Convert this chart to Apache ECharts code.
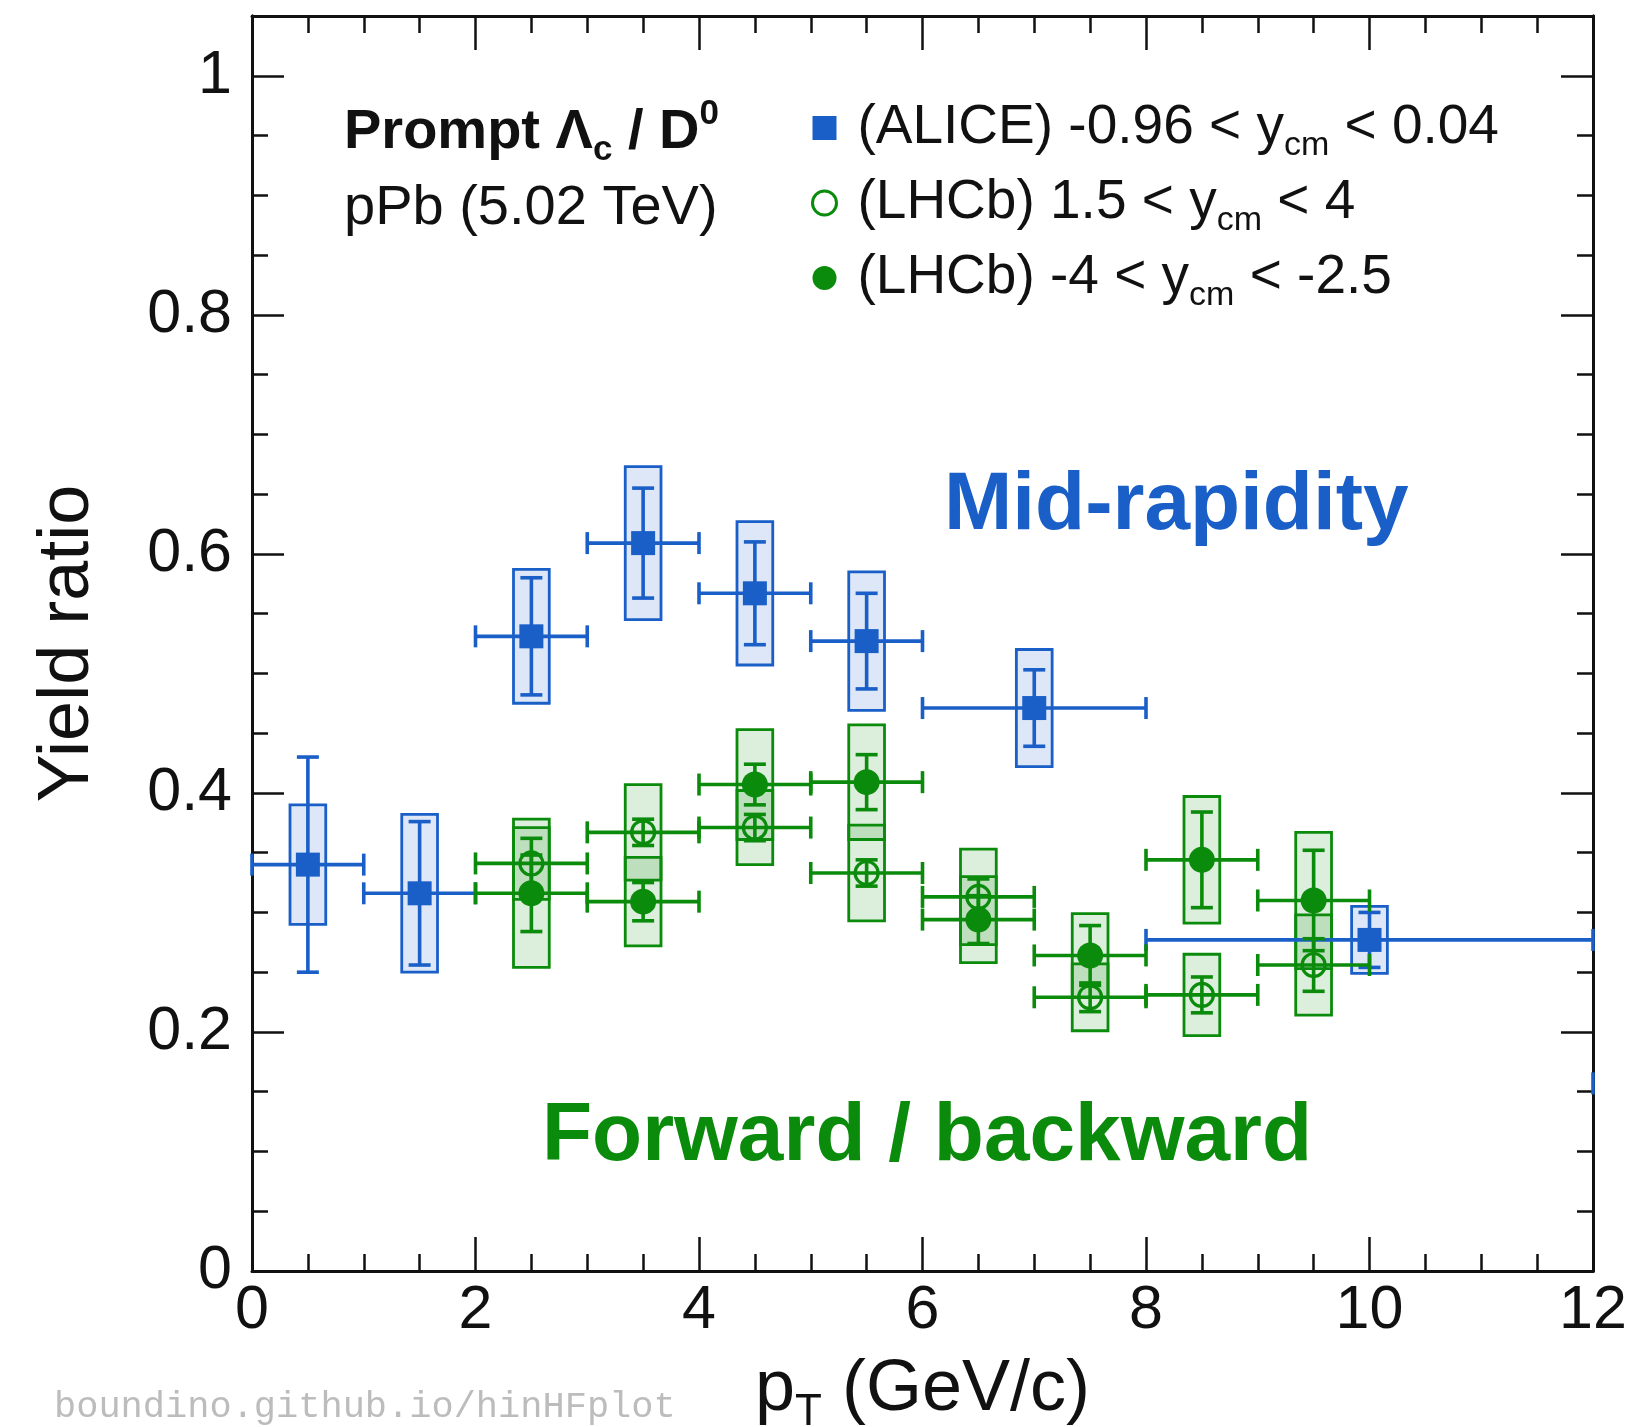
<!DOCTYPE html>
<html><head><meta charset="utf-8">
<script src="https://cdn.jsdelivr.net/npm/echarts@6/dist/echarts.min.js"></script>
<style>html,body{margin:0;padding:0;background:#fff}#c{width:1635px;height:1427px}</style>
</head><body><div id="c"></div>
<script>
// ---------------- data ----------------
const xTickValues = [0, 2, 4, 6, 8, 10, 12];
const yTickValues = [0, 0.2, 0.4, 0.6, 0.8, 1];

// ALICE -0.96 < y_cm < 0.04
const aliceX    = [0.5, 1.5, 2.5, 3.5, 4.5, 5.5, 7, 10, 18];
const aliceXLo  = [0, 1, 2, 3, 4, 5, 6, 8, 12];
const aliceXHi  = [1, 2, 3, 4, 5, 6, 8, 12, 24];
const aliceY    = [0.340, 0.316, 0.531, 0.609, 0.567, 0.527, 0.471, 0.277, 0.157];
const aliceStat = [0.090, 0.060, 0.049, 0.046, 0.043, 0.040, 0.032, 0.023, 0.030];
const aliceSyst = [0.050, 0.066, 0.056, 0.064, 0.060, 0.058, 0.049, 0.028, 0.020];

// LHCb bins
const lhcbX   = [2.5, 3.5, 4.5, 5.5, 6.5, 7.5, 8.5, 9.5];
const lhcbXLo = [2, 3, 4, 5, 6, 7, 8, 9];
const lhcbXHi = [3, 4, 5, 6, 7, 8, 9, 10];
// LHCb forward 1.5 < y_cm < 4 (open)
const fwdY    = [0.341, 0.367, 0.371, 0.333, 0.313, 0.229, 0.231, 0.256];
const fwdStat = [0.021, 0.011, 0.011, 0.011, 0.015, 0.012, 0.015, 0.022];
const fwdSyst = [0.030, 0.040, 0.031, 0.040, 0.040, 0.028, 0.034, 0.042];
// LHCb backward -4 < y_cm < -2.5 (filled)
const bwdY    = [0.316, 0.309, 0.407, 0.409, 0.294, 0.264, 0.344, 0.310];
const bwdStat = [0.032, 0.016, 0.017, 0.023, 0.020, 0.025, 0.040, 0.042];
const bwdSyst = [0.062, 0.037, 0.046, 0.048, 0.036, 0.035, 0.053, 0.057];

const legendLabels = {
  'ALICE':    '(ALICE) -0.96 < y{s|cm} < 0.04',
  'LHCb fwd': '(LHCb) 1.5 < y{s|cm} < 4',
  'LHCb bwd': '(LHCb) -4 < y{s|cm} < -2.5'
};

// ---------------- style ----------------
const FONT = '"Liberation Sans", Arial, Helvetica, sans-serif';
const BLUE = '#1a5fc8', GREEN = '#0b8b0b';
const BLUE_FILL = 'rgba(26,95,200,0.15)', GREEN_FILL = 'rgba(20,140,20,0.15)';
const INK = '#111';
const BOX_W = 0.32;

function pack(xs, lo, hi, ys, st, sy) {
  return xs.map((x, i) => [x, ys[i], lo[i], hi[i], st[i], sy[i]]);
}
const aliceData = pack(aliceX, aliceXLo, aliceXHi, aliceY, aliceStat, aliceSyst);
const fwdData = pack(lhcbX, lhcbXLo, lhcbXHi, fwdY, fwdStat, fwdSyst);
const bwdData = pack(lhcbX, lhcbXLo, lhcbXHi, bwdY, bwdStat, bwdSyst);

function boxRender(color, fill) {
  return function (params, api) {
    const cs = params.coordSys;
    const x = api.value(0), y = api.value(1), s = api.value(5);
    const p = api.coord([x, y]);
    if (p[0] < cs.x - 1 || p[0] > cs.x + cs.width + 1) return;
    const w = api.size([BOX_W, 0])[0];
    const t = api.coord([x, y + s])[1], b = api.coord([x, y - s])[1];
    return { type: 'rect', shape: { x: p[0] - w / 2, y: t, width: w, height: b - t },
      style: { fill: fill, stroke: color, lineWidth: 2.8 } };
  };
}
function barRender(color) {
  return function (params, api) {
    const cs = params.coordSys;
    const x = api.value(0), y = api.value(1), st = api.value(4);
    const p = api.coord([x, y]);
    const L = api.coord([api.value(2), y])[0], R = api.coord([api.value(3), y])[0];
    const g0 = cs.x, g1 = cs.x + cs.width;
    const ls = { stroke: color, lineWidth: 3.6 };
    const ch = [];
    const ln = (x1, y1, x2, y2) => ({ type: 'line', shape: { x1, y1, x2, y2 }, style: ls });
    const l = Math.max(L, g0), r = Math.min(R, g1);
    if (r > l) ch.push(ln(l, p[1], r, p[1]));
    if (L >= g0 - 1 && L <= g1 + 1) ch.push(ln(L, p[1] - 11, L, p[1] + 11));
    if (R >= g0 - 1 && R <= g1 + 1) ch.push(ln(R, p[1] - 11, R, p[1] + 11));
    if (p[0] >= g0 && p[0] <= g1) {
      const t = api.coord([x, y + st])[1], b = api.coord([x, y - st])[1];
      ch.push(ln(p[0], t, p[0], b));
      ch.push(ln(p[0] - 11, t, p[0] + 11, t));
      ch.push(ln(p[0] - 11, b, p[0] + 11, b));
    }
    return { type: 'group', children: ch };
  };
}

const chart = echarts.init(document.getElementById('c'), null, { renderer: 'canvas' });

const lineStyle = { color: INK, width: 3 };
const tickStyle = { color: INK, width: 2.5 };
function yAx(pos, interval, len, labels) {
  const a = {
    type: 'value', min: 0, max: 1.05, interval: interval, position: pos,
    axisLine: { show: true, onZero: false, lineStyle },
    axisTick: { show: true, inside: true, length: len, lineStyle: tickStyle },
    splitLine: { show: false },
    axisLabel: { show: false }
  };
  if (labels) {
    a.axisLabel = {
      show: true, fontSize: 61, fontFamily: FONT, color: INK, margin: 20,
      formatter: v => {
        const hit = yTickValues.find(t => Math.abs(t - v) < 1e-6);
        return hit === undefined ? '' : String(hit);
      }
    };
    a.name = 'Yield ratio';
    a.nameLocation = 'middle';
    a.nameGap = 148;
    a.nameTextStyle = { fontSize: 72, fontFamily: FONT, color: INK };
  }
  return a;
}
function xAx(pos, labels) {
  const a = {
    type: 'value', min: 0, max: 12, interval: 2, position: pos,
    axisLine: { show: true, onZero: false, lineStyle },
    axisTick: { show: true, inside: true, length: 34, lineStyle: tickStyle },
    minorTick: { show: true, splitNumber: 4, length: 17, lineStyle: tickStyle },
    splitLine: { show: false }, minorSplitLine: { show: false },
    axisLabel: { show: false }
  };
  if (labels) {
    a.axisLabel = {
      show: true, fontSize: 61, fontFamily: FONT, color: INK, margin: 10,
      formatter: v => {
        const hit = xTickValues.find(t => Math.abs(t - v) < 1e-6);
        return hit === undefined ? '' : String(hit);
      }
    };
    a.name = '{n|p}{s|T}{n| (GeV/c)}';
    a.nameLocation = 'middle';
    a.nameGap = 74;
    a.nameTextStyle = {
      fontSize: 72, fontFamily: FONT, color: INK,
      rich: {
        n: { fontSize: 72, fontFamily: FONT, color: INK },
        s: { fontSize: 44, fontFamily: FONT, color: INK, padding: [46, 0, 0, 0] }
      }
    };
  }
  return a;
}

const option = {
  backgroundColor: '#fff',
  animation: false,
  grid: { left: 252, right: 42, top: 16, bottom: 156, outerBoundsMode: 'none', containLabel: false },
  xAxis: [xAx('bottom', true), xAx('top', false)],
  yAxis: [yAx('left', 0.05, 16, true), yAx('left', 0.2, 32, false),
          yAx('right', 0.05, 16, false), yAx('right', 0.2, 32, false)],
  legend: {
    orient: 'vertical', left: 811, top: 93, padding: 0,
    itemWidth: 24, itemHeight: 24, itemGap: 5, selectedMode: false,
    data: [
      { name: 'ALICE', icon: 'rect', itemStyle: { color: BLUE, borderWidth: 0, opacity: 1 } },
      { name: 'LHCb fwd', icon: 'circle', itemStyle: { color: 'rgba(0,0,0,0)', borderColor: GREEN, borderWidth: 3, opacity: 1 } },
      { name: 'LHCb bwd', icon: 'circle', itemStyle: { color: GREEN, borderWidth: 0, opacity: 1 } }
    ],
    formatter: n => legendLabels[n],
    textStyle: {
      fontSize: 55, fontFamily: FONT, color: INK, lineHeight: 58, padding: [0, 0, 0, 16],
      rich: { s: { fontSize: 34, fontFamily: FONT, color: INK, lineHeight: 34, padding: [36, 0, 0, 0] } }
    }
  },
  graphic: [
    { type: 'text', x: 344, y: 133, silent: true, style: {
      text: 'Prompt Λ{s|c} / D{p|0}', fontSize: 56, fontWeight: 'bold', fontFamily: FONT, fill: INK,
      verticalAlign: 'middle', align: 'left',
      rich: {
        s: { fontSize: 35, fontWeight: 'bold', fontFamily: FONT, fill: INK, padding: [34, 0, 0, 0] },
        p: { fontSize: 35, fontWeight: 'bold', fontFamily: FONT, fill: INK, padding: [0, 0, 38, 0] }
      } } },
    { type: 'text', x: 344, y: 209, silent: true, style: {
      text: 'pPb (5.02 TeV)', fontSize: 56, fontFamily: FONT, fill: INK, verticalAlign: 'middle', align: 'left' } },
    { type: 'text', x: 944, y: 506, silent: true, style: {
      text: 'Mid-rapidity', fontSize: 82, fontWeight: 'bold', fontFamily: FONT, fill: BLUE, verticalAlign: 'middle', align: 'left' } },
    { type: 'text', x: 542, y: 1137, silent: true, style: {
      text: 'Forward / backward', fontSize: 82, fontWeight: 'bold', fontFamily: FONT, fill: GREEN, verticalAlign: 'middle', align: 'left' } },
    { type: 'text', x: 54, y: 1407, silent: true, style: {
      text: 'boundino.github.io/hinHFplot', fontSize: 37, fontFamily: '"Liberation Mono", "DejaVu Sans Mono", monospace', fill: '#bcbcbc', verticalAlign: 'middle', align: 'left' } }
  ],
  series: [
    { type: 'custom', name: 'ALICE syst', data: aliceData, renderItem: boxRender(BLUE, BLUE_FILL), clip: false, z: 2 },
    { type: 'custom', name: 'LHCb fwd syst', data: fwdData, renderItem: boxRender(GREEN, GREEN_FILL), clip: false, z: 2 },
    { type: 'custom', name: 'LHCb bwd syst', data: bwdData, renderItem: boxRender(GREEN, GREEN_FILL), clip: false, z: 2 },
    { type: 'custom', name: 'ALICE stat', data: aliceData, renderItem: barRender(BLUE), clip: false, z: 3 },
    { type: 'custom', name: 'LHCb fwd stat', data: fwdData, renderItem: barRender(GREEN), clip: false, z: 3 },
    { type: 'custom', name: 'LHCb bwd stat', data: bwdData, renderItem: barRender(GREEN), clip: false, z: 3 },
    { type: 'scatter', name: 'ALICE', data: aliceX.map((x, i) => [x, aliceY[i]]), symbol: 'rect', symbolSize: 24,
      itemStyle: { color: BLUE, opacity: 1 }, clip: true, z: 5 },
    { type: 'scatter', name: 'LHCb fwd', data: lhcbX.map((x, i) => [x, fwdY[i]]), symbol: 'circle', symbolSize: 23,
      itemStyle: { color: 'rgba(0,0,0,0)', borderColor: GREEN, borderWidth: 3.2, opacity: 1 }, clip: true, z: 5 },
    { type: 'scatter', name: 'LHCb bwd', data: lhcbX.map((x, i) => [x, bwdY[i]]), symbol: 'circle', symbolSize: 26,
      itemStyle: { color: GREEN, opacity: 1 }, clip: true, z: 5 }
  ]
};
chart.setOption(option);
</script>
</body></html>
